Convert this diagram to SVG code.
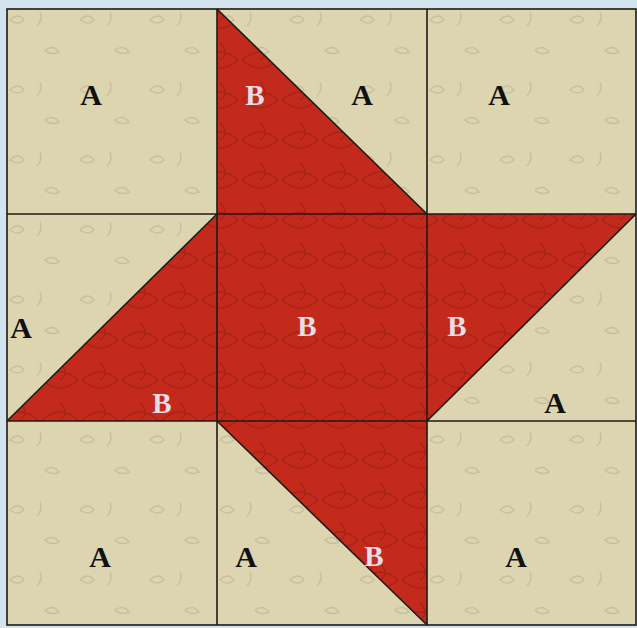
<svg xmlns="http://www.w3.org/2000/svg" width="637" height="628" viewBox="0 0 637 628">
<style>
.a{fill:#ddd4b0}
.b{fill:#c42a1c}
.ln{stroke:#1e1a14;stroke-width:1.6;fill:none}
.ta{font-family:"Liberation Serif",serif;font-weight:bold;font-size:30px;fill:#111;text-anchor:middle}
.tb{font-family:"Liberation Serif",serif;font-weight:bold;font-size:29px;fill:#e6dde6;text-anchor:middle}
</style>
<defs>
<pattern id="tex" width="70" height="70" patternUnits="userSpaceOnUse">
<path d="M10 20 q8 -8 14 0 q-6 6 -14 0z M45 50 q8 -6 14 2 q-8 4 -14 -2z M40 12 q3 8 -3 14" fill="none" stroke="#b9b394" stroke-width="1.5" opacity="0.6"/>
</pattern>
<pattern id="leaf" width="40" height="40" patternUnits="userSpaceOnUse">
<path d="M2 20 q18 -16 36 0 q-18 16 -36 0z M20 2 q10 12 0 18" fill="none" stroke="#8e1a10" stroke-width="1.5" opacity="0.5"/>
</pattern>
</defs>
<rect x="0" y="0" width="637" height="628" fill="#d3e4ee"/>
<g id="background">
<rect class="a" x="7" y="9" width="629" height="616"/>
<rect x="7" y="9" width="629" height="616" fill="url(#tex)"/>
</g>
<g id="star">
<polygon class="b" points="217,9 427,214 217,214"/>
<rect class="b" x="217" y="214" width="210" height="207"/>
<polygon class="b" points="427,214 636,214 427,421"/>
<polygon class="b" points="217,214 217,421 7,421"/>
<polygon class="b" points="217,421 427,421 427,625"/>
<g fill="url(#leaf)">
<polygon points="217,9 427,214 217,214"/>
<rect x="217" y="214" width="210" height="207"/>
<polygon points="427,214 636,214 427,421"/>
<polygon points="217,214 217,421 7,421"/>
<polygon points="217,421 427,421 427,625"/>
</g>
</g>
<g id="lines" class="ln">
<rect x="7" y="9" width="629" height="616"/>
<line x1="217" y1="9" x2="217" y2="625"/>
<line x1="427" y1="9" x2="427" y2="625"/>
<line x1="7" y1="214" x2="636" y2="214"/>
<line x1="7" y1="421" x2="636" y2="421"/>
<line x1="217" y1="9" x2="427" y2="214"/>
<line x1="636" y1="214" x2="427" y2="421"/>
<line x1="217" y1="214" x2="7" y2="421"/>
<line x1="217" y1="421" x2="427" y2="625"/>
</g>
<g id="labels">
<text class="ta" x="91" y="105">A</text>
<text class="tb" x="255" y="105">B</text>
<text class="ta" x="362" y="105">A</text>
<text class="ta" x="499" y="105">A</text>
<text class="ta" x="21" y="338">A</text>
<text class="tb" x="307" y="336">B</text>
<text class="tb" x="457" y="336">B</text>
<text class="tb" x="162" y="413">B</text>
<text class="ta" x="555" y="413">A</text>
<text class="ta" x="100" y="567">A</text>
<text class="ta" x="246" y="567">A</text>
<text class="tb" x="374" y="566">B</text>
<text class="ta" x="516" y="567">A</text>
</g>
</svg>
